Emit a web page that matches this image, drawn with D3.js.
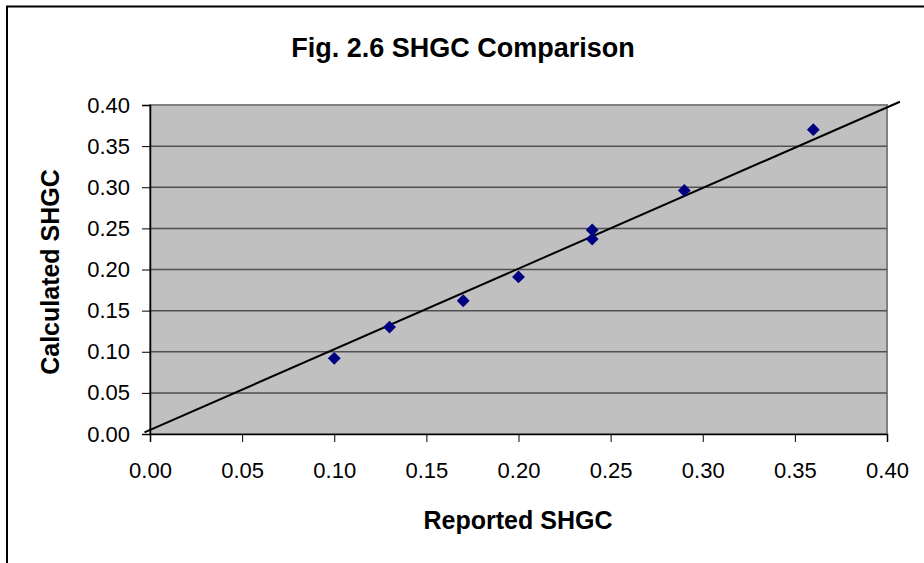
<!DOCTYPE html>
<html>
<head>
<meta charset="utf-8">
<script src="https://cdn.jsdelivr.net/npm/d3@7"></script>
<style>
  body { margin: 0; background: #fff; }
  svg { display: block; font-family: "Liberation Sans", Arial, sans-serif; }
</style>
</head>
<body>
<svg id="chart" width="924" height="563"></svg>
<script>
// reported vs calculated SHGC
let reported = [0.10, 0.13, 0.17, 0.20, 0.24, 0.24, 0.29, 0.36];
let calculated = [0.092, 0.130, 0.162, 0.191, 0.248, 0.237, 0.296, 0.370];
// the 1:1 reference line (it runs a little past the plot edges)
let lineX = [-0.003, 0.407];
let lineY = [0.002, 0.404];
let ticks = [0, 0.05, 0.10, 0.15, 0.20, 0.25, 0.30, 0.35, 0.40];

let svg = d3.select("#chart");
let plotLeft = 150, plotRight = 887, plotTop = 105, plotBottom = 434;

let x = d3.scaleLinear().domain([0, 0.4]).range([plotLeft, plotRight]);
let y = d3.scaleLinear().domain([0, 0.4]).range([plotBottom, plotTop]);

// chart frame
svg.append("rect")
    .attr("x", 7).attr("y", 6.5)
    .attr("width", 930).attr("height", 600)
    .attr("fill", "none")
    .attr("stroke", "#000")
    .attr("stroke-width", 2);

svg.append("text")
    .attr("x", 463).attr("y", 57)
    .attr("text-anchor", "middle")
    .attr("font-size", 27)
    .attr("font-weight", "bold")
    .text("Fig. 2.6 SHGC Comparison");

// plot area
svg.append("rect")
    .attr("x", plotLeft).attr("y", plotTop)
    .attr("width", plotRight - plotLeft).attr("height", plotBottom - plotTop)
    .attr("fill", "#c0c0c0")
    .attr("stroke", "#808080")
    .attr("stroke-width", 2);

// gridlines
svg.append("g")
    .selectAll("line")
    .data(ticks.slice(1, -1))
    .join("line")
    .attr("x1", plotLeft).attr("x2", plotRight)
    .attr("y1", d => y(d)).attr("y2", d => y(d))
    .attr("stroke", "#505050")
    .attr("stroke-width", 1.5);

let yAxis = svg.append("g")
    .attr("transform", `translate(${plotLeft},0)`)
    .call(d3.axisLeft(y).tickValues(ticks).tickFormat(d3.format(".2f")).tickSize(8).tickPadding(12));

let xAxis = svg.append("g")
    .attr("transform", `translate(0,${plotBottom})`)
    .call(d3.axisBottom(x).tickValues(ticks).tickFormat(d3.format(".2f")).tickSize(8).tickPadding(20));

[yAxis, xAxis].forEach(g => {
    g.select(".domain").attr("stroke", "#000").attr("stroke-width", 1.5);
    g.selectAll(".tick line").attr("stroke", "#000");
    g.selectAll(".tick text")
        .attr("font-size", 22)
        .attr("font-family", "Liberation Sans, Arial, sans-serif")
        .attr("fill", "#000");
});

svg.append("text")
    .attr("x", 518).attr("y", 529)
    .attr("text-anchor", "middle")
    .attr("font-size", 25)
    .attr("font-weight", "bold")
    .text("Reported SHGC");

svg.append("text")
    .attr("transform", "translate(59,272) rotate(-90)")
    .attr("text-anchor", "middle")
    .attr("font-size", 25)
    .attr("font-weight", "bold")
    .text("Calculated SHGC");

// reference line
svg.append("line")
    .attr("x1", x(lineX[0])).attr("y1", y(lineY[0]))
    .attr("x2", x(lineX[1])).attr("y2", y(lineY[1]))
    .attr("stroke", "#000")
    .attr("stroke-width", 2);

// points
let diamond = d3.symbol().type(d3.symbolDiamond2).size(105);
svg.append("g")
    .selectAll("path")
    .data(reported)
    .join("path")
    .attr("transform", (d, i) => `translate(${x(d)},${y(calculated[i])})`)
    .attr("d", diamond)
    .attr("fill", "#000080");
</script>
</body>
</html>
